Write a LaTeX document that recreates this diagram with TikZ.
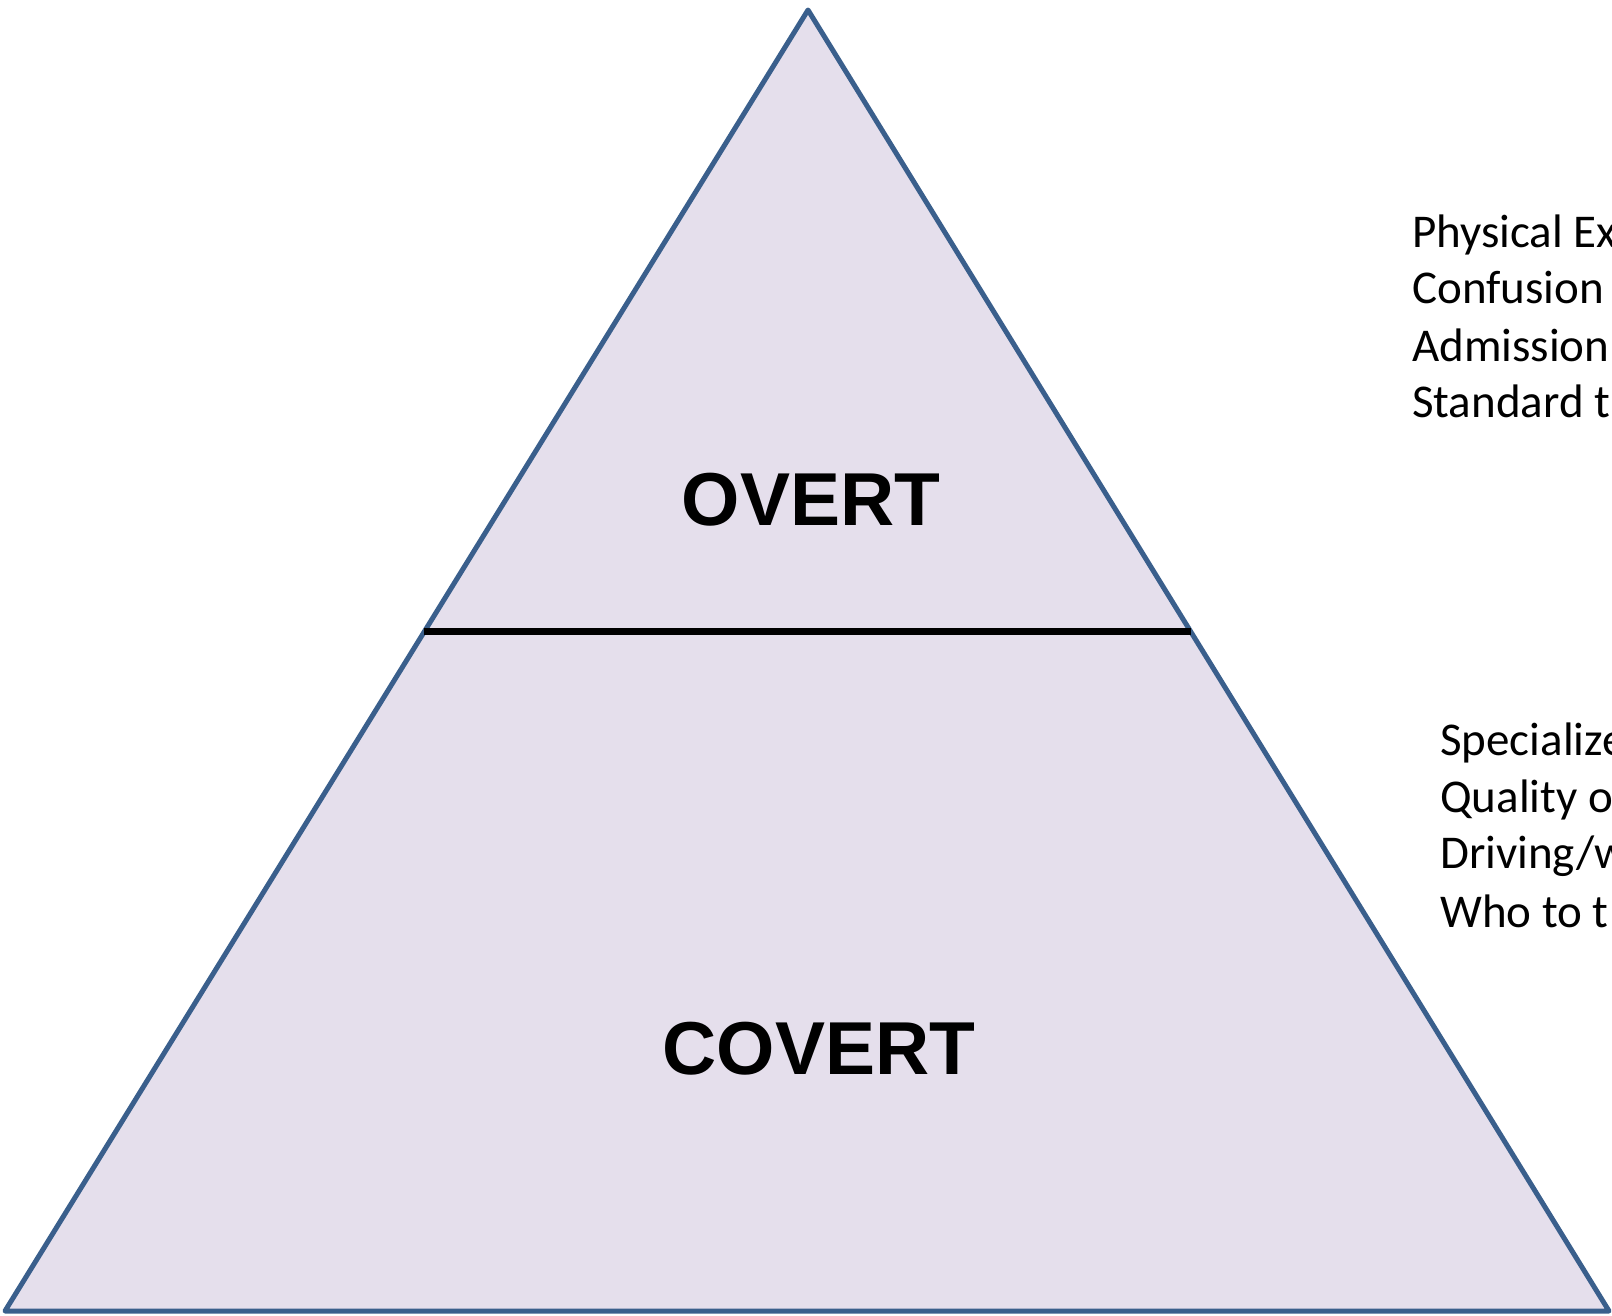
\documentclass[tikz,border=0pt]{standalone}
\usepackage{fontspec}
\setmainfont{Carlito}
\newfontfamily\headfont{Liberation Sans}
\usetikzlibrary{calc}
\definecolor{pyrfill}{HTML}{E5DFEC}
\definecolor{pyredge}{HTML}{3A5F8C}
\tikzstyle{level} = [font=\headfont\bfseries\fontsize{75}{78}\selectfont, anchor=center]
\tikzstyle{item} = [font=\fontsize{47}{57}\selectfont, anchor=base west, inner sep=0pt]

\begin{document}
\begin{tikzpicture}[x=1pt, y=-1pt]

            \useasboundingbox (0,0) rectangle (1612,1315);

            \coordinate (apex) at (808,10);
            \coordinate (bl) at (5,1311);
            \coordinate (br) at (1609,1311);

            %% pyramid
            \draw [pyredge, line width=5pt, fill=pyrfill, line join=round] (apex) -- (br) -- (bl) -- cycle;

            \coordinate (dl) at ($(apex)!0.4777!(bl)$);
            \coordinate (dr) at ($(apex)!0.4777!(br)$);
            \draw [black, line width=7pt] (dl) -- (dr);

            \node (overt) [level] at (811,500) {OVERT};
            \node (covert) [level] at (819,1049) {COVERT};

            %% signs on the right

            \node (o1) [item] at (1412,247) {Physical Ex};
            \node (o2) [item] at (1412,303) {Confusion};
            \node (o3) [item] at (1412,361) {Admission};
            \node (o4) [item] at (1412,417) {Standard t};

            \node (c1) [item] at (1440,755) {Specialize};
            \node (c2) [item] at (1440,812) {Quality o};
            \node (c3) [item] at (1440,868) {Driving/w};
            \node (c4) [item] at (1440,927) {Who to t};

\end{tikzpicture}
\end{document}
